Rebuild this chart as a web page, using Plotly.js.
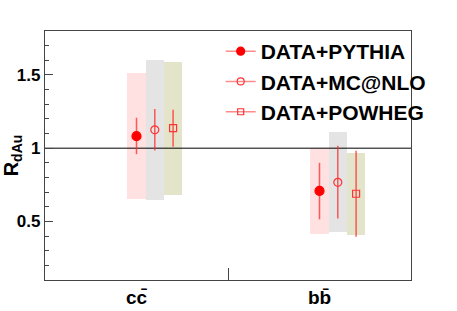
<!DOCTYPE html>
<html><head><meta charset="utf-8">
<script src="https://cdn.plot.ly/plotly-3.0.1.min.js"></script>
<style>html,body{margin:0;padding:0;background:#fff}</style>
</head><body><div id="plot" style="width:457px;height:311px"></div>
<script>
const categories = ["c\u0063\u0304", "b\u0062\u0304"];
const models = ["DATA+PYTHIA", "DATA+MC@NLO", "DATA+POWHEG"];
// central values per category
const pythiaVal   = [1.082, 0.708];
const pythiaStatHi= [1.208, 0.900];
const pythiaStatLo= [0.959, 0.514];
const pythiaSysHi = [1.514, 1.000];
const pythiaSysLo = [0.653, 0.415];

const mcnloVal    = [1.125, 0.767];
const mcnloStatHi = [1.267, 1.016];
const mcnloStatLo = [0.984, 0.520];
const mcnloSysHi  = [1.605, 1.110];
const mcnloSysLo  = [0.646, 0.427];

const powhegVal    = [1.137, 0.689];
const powhegStatHi = [1.262, 0.982];
const powhegStatLo = [1.009, 0.395];
const powhegSysHi  = [1.591, 0.968];
const powhegSysLo  = [0.680, 0.408];

const refValue = 1;

const sets = [
  {name: models[0], v: pythiaVal, sh: pythiaStatHi, sl: pythiaStatLo, yh: pythiaSysHi, yl: pythiaSysLo,
   box: "#ffe1e1", sym: "circle", msize: 9, mcolor: "#ff0000", mline: "#ff0000"},
  {name: models[1], v: mcnloVal, sh: mcnloStatHi, sl: mcnloStatLo, yh: mcnloSysHi, yl: mcnloSysLo,
   box: "#e4e4e4", sym: "circle-open", msize: 8, mcolor: "#ff3333", mline: "#ff3333"},
  {name: models[2], v: powhegVal, sh: powhegStatHi, sl: powhegStatLo, yh: powhegSysHi, yl: powhegSysLo,
   box: "#e4e4cb", sym: "square-open", msize: 7, mcolor: "#ff3333", mline: "#ff3333"}
];
const offset = 0.1;
const xOf = (k) => categories.map((c, i) => i + 0.5 + k * offset);

const traces = [];
sets.forEach((s, k) => {
  traces.push({type: "bar", x: xOf(k), base: s.yl, y: s.yh.map((h, i) => h - s.yl[i]),
    width: offset, marker: {color: s.box, line: {width: 0}}, showlegend: false, hoverinfo: "skip"});
});
traces.push({type: "scatter", mode: "lines", x: [0, categories.length], y: [refValue, refValue],
  line: {color: "#000", width: 1}, showlegend: false, hoverinfo: "skip"});
sets.forEach((s, k) => {
  traces.push({type: "scatter", mode: "markers", x: xOf(k), y: s.v,
    error_y: {type: "data", symmetric: false,
      array: s.sh.map((h, i) => h - s.v[i]), arrayminus: s.v.map((v, i) => v - s.sl[i]),
      color: "rgba(255,40,40,0.75)", thickness: 1.5, width: 0},
    marker: {symbol: s.sym, size: s.msize, color: s.mcolor, line: {color: s.mline, width: 1.2}},
    showlegend: false});
});
sets.forEach((s, k) => {
  traces.push({type: "scatter", mode: "lines+markers", x: [null], y: [null], name: "<b>" + s.name + "</b>",
    line: {color: "#ff8c8c", width: 1.5},
    marker: {symbol: s.sym, size: s.msize - 1, color: s.mcolor, line: {color: s.mline, width: 1.2}}});
});
traces.push({type: "scatter", mode: "markers", x: [1], y: [0.5], xaxis: "x2", marker: {opacity: 0}, showlegend: false, hoverinfo: "skip"});

const font = "Liberation Sans, Arial, sans-serif";
const layout = {
  width: 457, height: 311,
  margin: {l: 45, r: 46, t: 31, b: 31},
  paper_bgcolor: "#fff", plot_bgcolor: "#fff",
  barmode: "overlay", bargap: 0,
  showlegend: true,
  legend: {x: 0.48, y: 1.0, xanchor: "left", yanchor: "top", bgcolor: "rgba(0,0,0,0)",
    font: {family: font, size: 21, color: "#000"}, traceorder: "normal",
    itemwidth: 30},
  xaxis: {range: [0, 2], tickvals: [0.5, 1.5], ticktext: categories, ticks: "",
    showline: true, linecolor: "#444", linewidth: 1.2, mirror: true, showgrid: false, zeroline: false,
    tickfont: {family: font, size: 19, color: "#000", weight: "bold"}, fixedrange: true},
  xaxis2: {range: [0, 2], overlaying: "x", side: "bottom", tickvals: [1], ticks: "inside", ticklen: 12,
    tickcolor: "#444", showticklabels: false, showline: false, showgrid: false, zeroline: false},
  yaxis: {range: [0.1, 1.8], tickvals: [0.5, 1, 1.5], ticktext: ["0.5", "1", "1.5"], ticks: "inside", ticklen: 8,
    tickcolor: "#444", showline: true, linecolor: "#444", linewidth: 1.2, mirror: true, showgrid: false, zeroline: false,
    minor: {dtick: 0.1, tick0: 0, ticks: "inside", ticklen: 4, tickcolor: "#444", showgrid: false},
    tickfont: {family: font, size: 17, color: "#000", weight: "bold"},
    title: {text: "R<sub>dAu</sub>", font: {family: font, size: 20, color: "#000", weight: "bold"}, standoff: 6}}
};
Plotly.newPlot("plot", traces, layout, {staticPlot: true});
</script></body></html>
